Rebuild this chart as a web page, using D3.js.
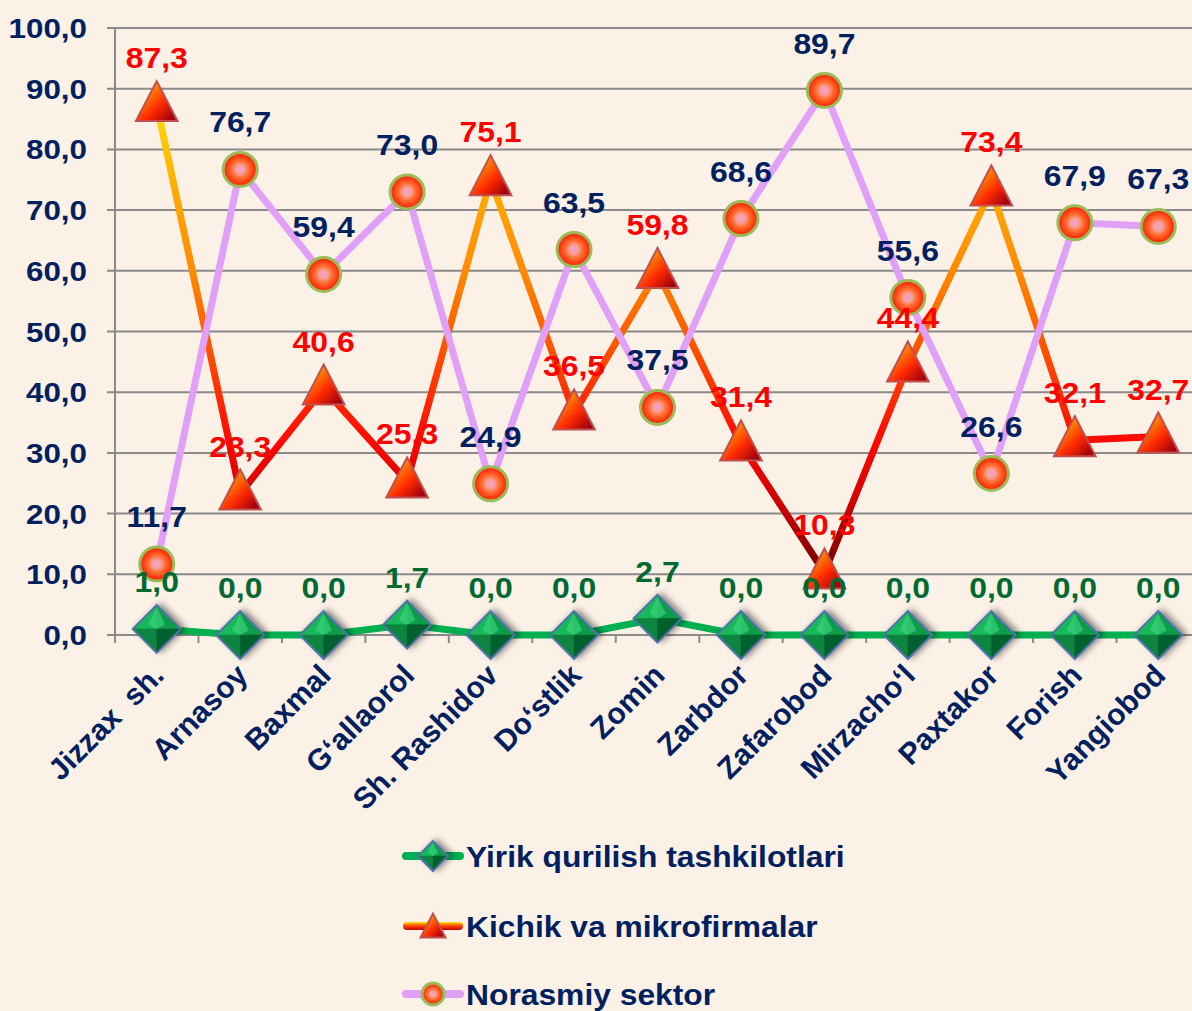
<html lang="uz">
<head>
    <meta charset="UTF-8">
    <title>Qurilish tashkilotlari</title>
    <script src="https://d3js.org/d3.v7.min.js"></script>
    <style>
        body {
            margin: 0;
            background-color: #fcf1e7;
            font-family: 'Liberation Sans', Arial, sans-serif;
        }
        svg text {
            font-weight: bold;
            white-space: pre;
        }
    </style>
</head>
<body>
    <svg id="chart" width="1192" height="1011"></svg>

    <script>
        const categories = ['Jizzax  sh.', 'Arnasoy', 'Baxmal', 'G\u2018allaorol', 'Sh. Rashidov', 'Do\u2018stlik',
            'Zomin', 'Zarbdor', 'Zafarobod', 'Mirzacho\u2018l', 'Paxtakor', 'Forish', 'Yangiobod'];
        const yirikValues = [1.0, 0.0, 0.0, 1.7, 0.0, 0.0, 2.7, 0.0, 0.0, 0.0, 0.0, 0.0, 0.0];
        const kichikValues = [87.3, 23.3, 40.6, 25.3, 75.1, 36.5, 59.8, 31.4, 10.3, 44.4, 73.4, 32.1, 32.7];
        const norasmiyValues = [11.7, 76.7, 59.4, 73.0, 24.9, 63.5, 37.5, 68.6, 89.7, 55.6, 26.6, 67.9, 67.3];
        const seriesNames = ['Yirik qurilish tashkilotlari', 'Kichik va mikrofirmalar', 'Norasmiy sektor'];
        const yTicks = [0, 10, 20, 30, 40, 50, 60, 70, 80, 90, 100];

        const navy = '#002060';
        const svg = d3.select('#chart');
        const defs = svg.append('defs');

        const x = d3.scaleBand().domain(categories).range([115, 1200]);
        const y = d3.scaleLinear().domain([0, 100]).range([635, 28]);
        const cx = c => x(c) + x.bandwidth() / 2;
        const fmt = v => d3.format('.1f')(v).replace('.', ',');

        // gradients
        const lineGrad = defs.append('linearGradient')
            .attr('id', 'kichikLine')
            .attr('gradientUnits', 'userSpaceOnUse')
            .attr('x1', 0).attr('x2', 0)
            .attr('y1', y(90)).attr('y2', y(8));
        [[90, '#ffe600'], [75, '#ffb000'], [60, '#ff8a00'], [45, '#ff4800'], [32, '#ff0800'], [22, '#d00000'], [8, '#600000']]
            .forEach(([v, c]) => lineGrad.append('stop')
                .attr('offset', (90 - v) / 82)
                .attr('stop-color', c));

        const triGrad = defs.append('linearGradient')
            .attr('id', 'triFill')
            .attr('x1', 0.2).attr('y1', 0.2).attr('x2', 0.9).attr('y2', 0.9);
        triGrad.append('stop').attr('offset', 0).attr('stop-color', '#ffa000');
        triGrad.append('stop').attr('offset', 0.55).attr('stop-color', '#ff2a00');
        triGrad.append('stop').attr('offset', 1).attr('stop-color', '#a00010');

        const circGrad = defs.append('radialGradient').attr('id', 'circFill');
        circGrad.append('stop').attr('offset', 0).attr('stop-color', '#f0a0d0');
        circGrad.append('stop').attr('offset', 0.25).attr('stop-color', '#f7a0a0');
        circGrad.append('stop').attr('offset', 0.5).attr('stop-color', '#ff7030');
        circGrad.append('stop').attr('offset', 1).attr('stop-color', '#ff1800');

        const legGrad = defs.append('linearGradient')
            .attr('id', 'kichikLegend')
            .attr('x1', 0).attr('x2', 0).attr('y1', 0).attr('y2', 1);
        legGrad.append('stop').attr('offset', 0).attr('stop-color', '#ffe600');
        legGrad.append('stop').attr('offset', 0.5).attr('stop-color', '#ff4000');
        legGrad.append('stop').attr('offset', 1).attr('stop-color', '#c00000');

        const shadow = defs.append('filter').attr('id', 'shadow')
            .attr('x', '-50%').attr('y', '-50%').attr('width', '200%').attr('height', '200%');
        shadow.append('feDropShadow')
            .attr('dx', 4).attr('dy', -1).attr('stdDeviation', 3)
            .attr('flood-color', '#000').attr('flood-opacity', 0.45);

        // grid + axes
        svg.append('g').selectAll('line').data(yTicks).join('line')
            .attr('x1', 107).attr('x2', 1192)
            .attr('y1', d => y(d)).attr('y2', d => y(d))
            .attr('stroke', '#8a8a8a').attr('stroke-width', 2);

        svg.append('line')
            .attr('x1', 115).attr('x2', 115)
            .attr('y1', y(100)).attr('y2', y(0) + 8)
            .attr('stroke', '#8a8a8a').attr('stroke-width', 2);

        svg.append('g').selectAll('line').data(categories.slice(1)).join('line')
            .attr('x1', d => x(d)).attr('x2', d => x(d))
            .attr('y1', y(0)).attr('y2', y(0) + 8)
            .attr('stroke', '#8a8a8a').attr('stroke-width', 2);

        svg.append('g').selectAll('text').data(yTicks).join('text')
            .attr('transform', d => `translate(87,${y(d) + 10}) scale(1.12,1)`)
            .attr('text-anchor', 'end')
            .attr('font-size', 28)
            .attr('fill', navy)
            .text(fmt);

        svg.append('g').selectAll('text').data(categories).join('text')
            .attr('transform', d => `translate(${cx(d) + 9},${y(0) + 42}) rotate(-45)`)
            .attr('text-anchor', 'end')
            .attr('font-size', 30)
            .attr('fill', navy)
            .text(d => d);

        // marker shapes
        const trianglePath = (s) => `M0,${-s * 0.6}L${s * 0.52},${s * 0.4}L${-s * 0.52},${s * 0.4}Z`;

        function drawDiamond(g, h) {
            g.attr('filter', 'url(#shadow)');
            const facets = [
                [[0, -h], [-h, 0], [0, 0], '#19b85a'],
                [[0, -h], [h, 0], [0, 0], '#0c9c4a'],
                [[-h, 0], [0, h], [0, 0], '#0b8440'],
                [[h, 0], [0, h], [0, 0], '#06602e']
            ];
            facets.forEach(f => g.append('path')
                .attr('d', `M${f[0]}L${f[1]}L${f[2]}Z`)
                .attr('fill', f[3])
                .attr('stroke', f[3]).attr('stroke-width', 0.5));
            g.append('path')
                .attr('d', `M0,${-h * 0.9}L${h * 0.35},${-h * 0.2}L0,0L${-h * 0.35},${-h * 0.2}Z`)
                .attr('fill', '#3ad27a').attr('opacity', 0.7);
            g.append('path')
                .attr('d', `M0,${-h}L${h},0L0,${h}L${-h},0Z`)
                .attr('fill', 'none')
                .attr('stroke', '#4f74a8').attr('stroke-width', 2);
        }

        function drawTriangle(g, s) {
            g.append('path')
                .attr('d', trianglePath(s))
                .attr('fill', 'url(#triFill)')
                .attr('stroke', '#c0504d').attr('stroke-width', 2);
        }

        function drawCircle(g, r) {
            g.append('circle')
                .attr('r', r)
                .attr('fill', 'url(#circFill)')
                .attr('stroke', '#9bbb59').attr('stroke-width', 3);
        }

        const line = d3.line().x(d => cx(d.c)).y(d => y(d.v));
        const toPoints = vals => vals.map((v, i) => ({ c: categories[i], v }));

        const series = [
            { values: yirikValues, stroke: '#00b050', marker: g => drawDiamond(g, 24), label: '#006a30' },
            { values: kichikValues, stroke: 'url(#kichikLine)', marker: g => drawTriangle(g, 40), label: '#ff0000' },
            { values: norasmiyValues, stroke: '#e0a0f8', marker: g => drawCircle(g, 17), label: navy }
        ];

        series.forEach(s => {
            svg.append('path')
                .datum(toPoints(s.values))
                .attr('d', line)
                .attr('fill', 'none')
                .attr('stroke', s.stroke)
                .attr('stroke-width', 7)
                .attr('stroke-linejoin', 'round');
        });

        series.forEach(s => {
            svg.append('g').selectAll('g').data(toPoints(s.values)).join('g')
                .attr('transform', d => `translate(${cx(d.c)},${y(d.v)})`)
                .each(function () { s.marker(d3.select(this)); });
        });

        series.forEach(s => {
            svg.append('g').selectAll('text').data(toPoints(s.values)).join('text')
                .attr('transform', d => `translate(${cx(d.c)},${y(d.v) - 37}) scale(1.1,1)`)
                .attr('text-anchor', 'middle')
                .attr('font-size', 29)
                .attr('fill', s.label)
                .text(d => fmt(d.v));
        });

        // legend
        const legendY = [856, 926, 994];
        series.forEach((s, i) => {
            const g = svg.append('g').attr('transform', `translate(433,${legendY[i]})`);
            if (i === 1) {
                g.append('rect')
                    .attr('x', -30).attr('y', -4).attr('width', 60).attr('height', 8)
                    .attr('rx', 4)
                    .attr('fill', 'url(#kichikLegend)');
            } else {
                g.append('line')
                    .attr('x1', -27).attr('x2', 27)
                    .attr('stroke', s.stroke)
                    .attr('stroke-width', 8)
                    .attr('stroke-linecap', 'round');
            }
            const m = g.append('g');
            if (i === 0) drawDiamond(m, 15);
            if (i === 1) drawTriangle(m.attr('transform', 'translate(0,2)'), 24);
            if (i === 2) drawCircle(m, 11);

            svg.append('text')
                .attr('transform', `translate(466,${legendY[i] + 11}) scale(1.06,1)`)
                .attr('font-size', 30)
                .attr('fill', navy)
                .text(seriesNames[i]);
        });
    </script>
</body>
</html>
